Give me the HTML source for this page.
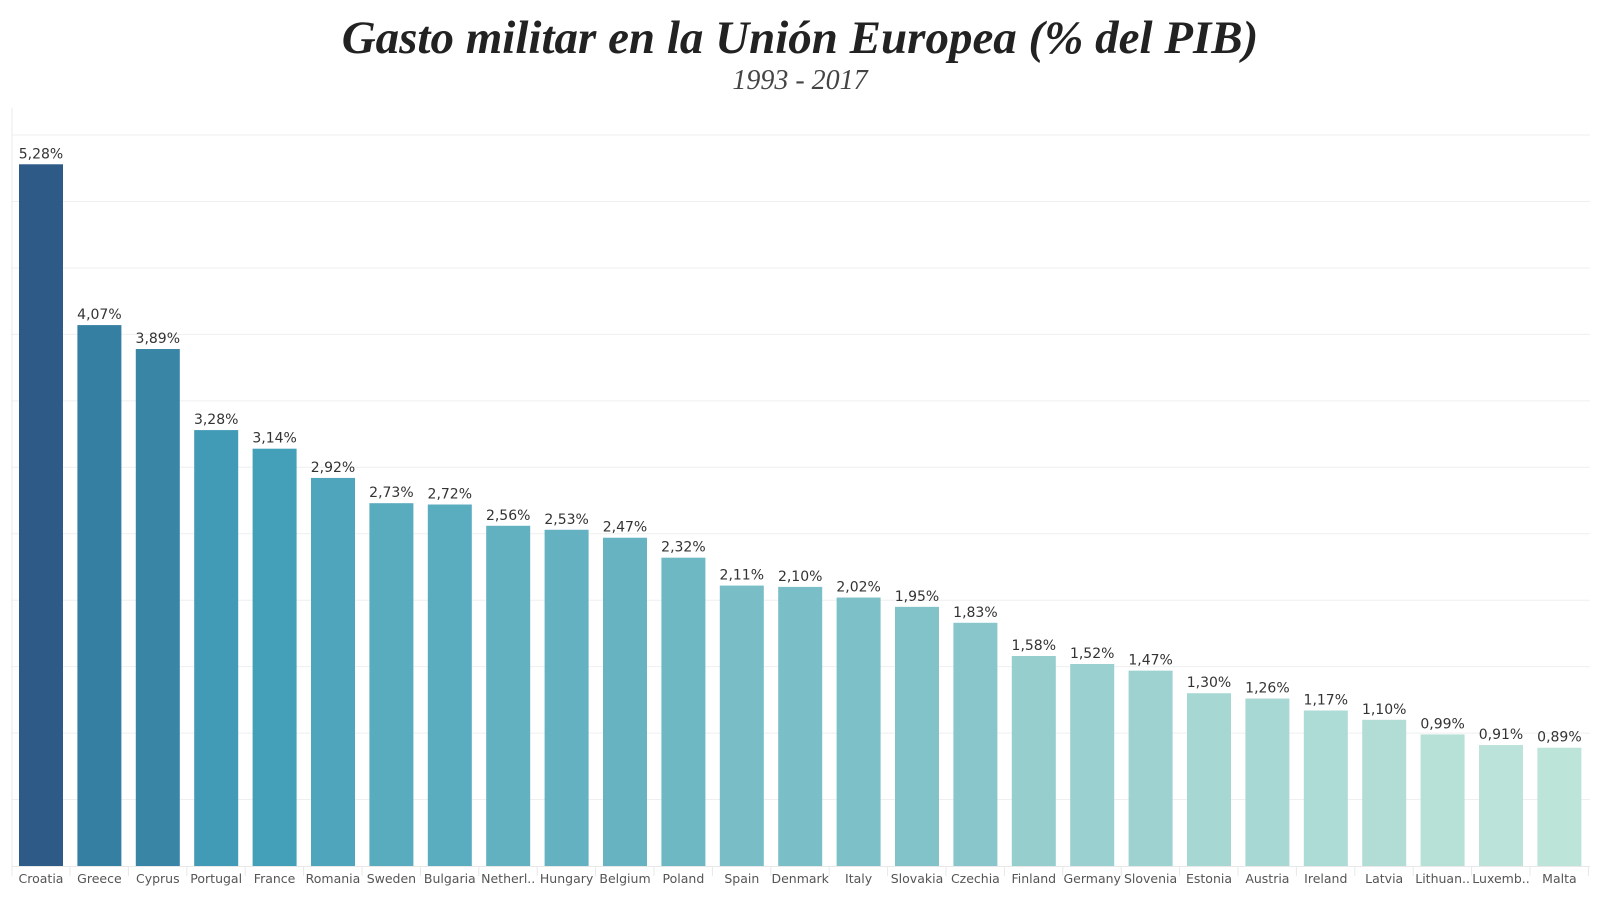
<!DOCTYPE html>
<html><head><meta charset="utf-8"><style>
body{margin:0;background:#fff;width:1600px;height:900px;overflow:hidden;font-family:"DejaVu Sans","Liberation Sans",sans-serif}
#title{position:absolute;left:0;width:1600px;top:11px;text-align:center;font:italic bold 47px "Liberation Serif",serif;color:#222}
#sub{position:absolute;left:0;width:1600px;top:65px;text-align:center;font:italic 28px "Liberation Serif",serif;color:#444}
</style></head><body>
<div id="title">Gasto militar en la Unión Europea (% del PIB)</div>
<div id="sub">1993 - 2017</div>
<svg id="c" width="1600" height="900" style="position:absolute;left:0;top:0"></svg>
<script>
const categories=["Croatia","Greece","Cyprus","Portugal","France","Romania","Sweden","Bulgaria","Netherl..","Hungary","Belgium","Poland","Spain","Denmark","Italy","Slovakia","Czechia","Finland","Germany","Slovenia","Estonia","Austria","Ireland","Latvia","Lithuan..","Luxemb..","Malta"];
const values=[5.28,4.07,3.89,3.28,3.14,2.92,2.73,2.72,2.56,2.53,2.47,2.32,2.11,2.10,2.02,1.95,1.83,1.58,1.52,1.47,1.30,1.26,1.17,1.10,0.99,0.91,0.89];
const gridValues=[0.5,1,1.5,2,2.5,3,3.5,4,4.5,5,5.5];
const svg=document.getElementById('c');const NS='http://www.w3.org/2000/svg';
const base=866,scale=132.9,x0=19,step=58.4,bw=44;
const y=v=>base-v*scale;const x=i=>x0+i*step;
function mk(t,a){const e=document.createElementNS(NS,t);for(const k in a)e.setAttribute(k,a[k]);svg.appendChild(e);return e;}
const stops=[[0.89,[189,228,217]],[2.0,[127,193,200]],[3.14,[68,160,185]],[4.07,[53,127,162]],[5.28,[46,90,135]]];
function col(v){for(let i=0;i<stops.length-1;i++){const[a,ca]=stops[i],[b,cb]=stops[i+1];if(v<=b||i==stops.length-2){const t=Math.max(0,Math.min(1,(v-a)/(b-a)));return 'rgb('+ca.map((c,j)=>Math.round(c+(cb[j]-c)*t)).join(',')+')';}}}
gridValues.forEach(g=>{const l=mk('line',{x1:12,x2:1590,y1:y(g),y2:y(g),stroke:'#efefef','stroke-width':1});

});
const ax=mk('line',{x1:12,x2:12,y1:108,y2:base+10,stroke:'#e8e8e8'});


const bl=mk('line',{x1:12,x2:1590,y1:base+0.5,y2:base+0.5,stroke:'#e8e8e8'});


categories.forEach((c,i)=>{const v=values[i];
const r=mk('rect',{x:x(i),y:y(v),width:bw,height:v*scale,fill:col(v)});


const t=mk('text',{x:x(i)+bw/2,y:y(v)-6,'text-anchor':'middle','font-size':14,fill:'#333'});t.textContent=v.toFixed(2).replace('.',',')+'%';


const s=mk('line',{x1:x(i)+bw+7,x2:x(i)+bw+7,y1:base,y2:base+10,stroke:'#e8e8e8'});


const l=mk('text',{x:x(i)+bw/2,y:base+17,'text-anchor':'middle','font-size':12.5,fill:'#555'});l.textContent=c;

});
</script>
</body></html>
